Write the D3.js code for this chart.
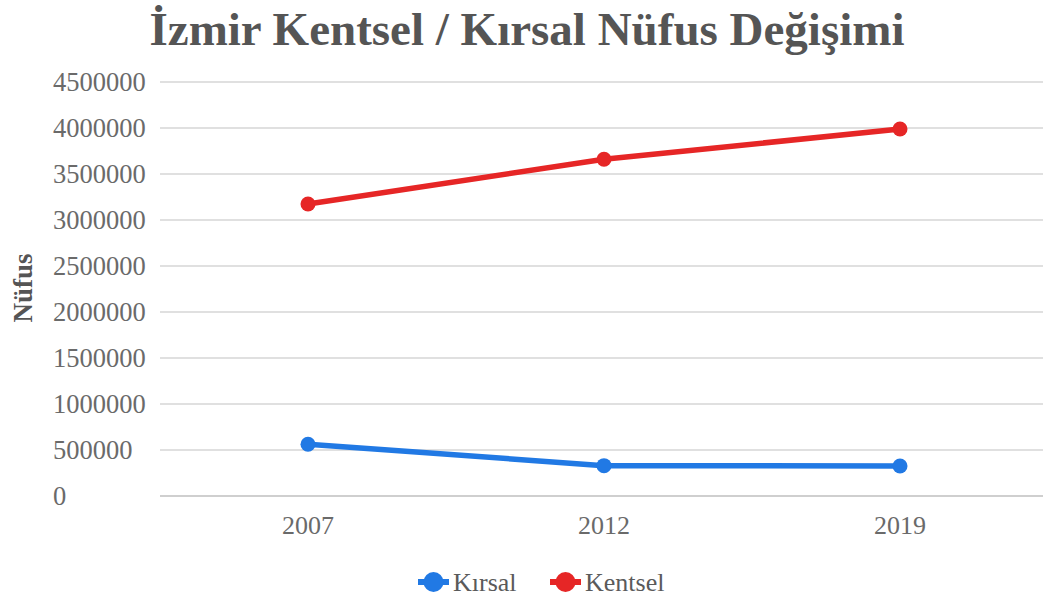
<!DOCTYPE html>
<html>
<head>
<meta charset="utf-8">
<script src="https://cdn.jsdelivr.net/npm/d3@7"></script>
<style>
  html, body { margin: 0; padding: 0; background: #fff; }
  svg text { font-family: "Liberation Serif", "DejaVu Serif", serif; }
</style>
</head>
<body>
<div id="chart"></div>
<script>
// İzmir urban / rural population
const years = ['2007', '2012', '2019'];
const kirsal = [562000, 330000, 326000];
const kentsel = [3174000, 3660000, 3989000];
const yTicks = [0, 500000, 1000000, 1500000, 2000000, 2500000, 3000000, 3500000, 4000000, 4500000];
const seriesNames = ['Kırsal', 'Kentsel'];
const seriesColors = ['#2179e4', '#e62626'];

const width = 1043, height = 597;
const m = { top: 82, right: -5, bottom: 101, left: 160 };
const innerW = width - m.left - m.right;
const innerH = height - m.top - m.bottom;

const svg = d3.select('#chart').append('svg').attr('width', width).attr('height', height);

svg.append('text')
  .attr('x', 527).attr('y', 45)
  .attr('text-anchor', 'middle')
  .style('font-size', '47px').style('font-weight', 'bold').style('fill', '#555')
  .text('İzmir Kentsel / Kırsal Nüfus Değişimi');

const g = svg.append('g').attr('transform', `translate(${m.left},${m.top})`);

const x = d3.scalePoint().domain(years).range([0, innerW]).padding(0.5);
const y = d3.scaleLinear().domain([0, 4500000]).range([innerH, 0]);

// gridlines + left-aligned tick labels
g.selectAll('line.grid').data(yTicks).enter().append('line')
  .attr('class', 'grid')
  .attr('x1', 0).attr('x2', innerW)
  .attr('y1', d => y(d)).attr('y2', d => y(d))
  .attr('stroke', d => d === 0 ? '#cfcfcf' : '#e0e0e0')
  .attr('stroke-width', 2);

g.selectAll('text.ytick').data(yTicks).enter().append('text')
  .attr('class', 'ytick')
  .attr('x', 53 - m.left).attr('y', d => y(d))
  .attr('dy', '0.35em')
  .style('font-size', '26.5px').style('fill', '#6a6a6a')
  .text(d => d);

g.selectAll('text.xtick').data(years).enter().append('text')
  .attr('class', 'xtick')
  .attr('x', d => x(d)).attr('y', innerH + 38)
  .attr('text-anchor', 'middle')
  .style('font-size', '26px').style('fill', '#6a6a6a')
  .text(d => d);

svg.append('text')
  .attr('transform', 'translate(32,288) rotate(-90)')
  .attr('text-anchor', 'middle')
  .style('font-size', '27px').style('font-weight', 'bold').style('fill', '#555')
  .text('Nüfus');

const series = [kirsal, kentsel];
const line = d3.line().x((d, i) => x(years[i])).y(d => y(d));

series.forEach((vals, si) => {
  g.append('path')
    .datum(vals)
    .attr('d', line)
    .attr('fill', 'none')
    .attr('stroke', seriesColors[si])
    .attr('stroke-width', 5.5)
    .attr('stroke-linejoin', 'round');
  g.selectAll(null).data(vals).enter().append('circle')
    .attr('cx', (d, i) => x(years[i]))
    .attr('cy', d => y(d))
    .attr('r', 7.5)
    .attr('fill', seriesColors[si]);
});

// legend
const legendX = [418, 550];
const legend = svg.append('g');
seriesNames.forEach((name, i) => {
  const lg = legend.append('g').attr('transform', `translate(${legendX[i]},582)`);
  lg.append('line').attr('x1', 0).attr('x2', 31).attr('y1', 0).attr('y2', 0)
    .attr('stroke', seriesColors[i]).attr('stroke-width', 6);
  lg.append('circle').attr('cx', 15.5).attr('cy', 0).attr('r', 10).attr('fill', seriesColors[i]);
  lg.append('text').attr('x', 35).attr('y', 0).attr('dy', '0.35em')
    .style('font-size', '26px').style('fill', '#5a5a5a').text(name);
});
</script>
</body>
</html>
